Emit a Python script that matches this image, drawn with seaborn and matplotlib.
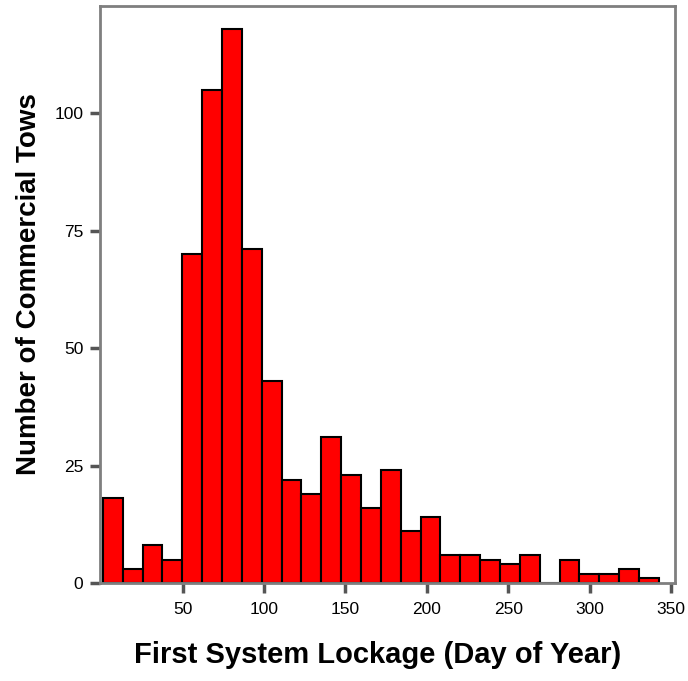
import matplotlib
matplotlib.use("Agg")
import matplotlib.pyplot as plt
import seaborn as sns
import numpy as np
import pandas as pd

# counts per bin (28 bins, day 1 .. ~342)
counts = [18, 3, 8, 5, 70, 105, 118, 71, 43, 22, 19, 31, 23, 16,
          24, 11, 14, 6, 6, 5, 4, 6, 0, 5, 2, 2, 3, 1]
bin_start = 1.0
bin_width = 12.2
x_ticks = [50, 100, 150, 200, 250, 300, 350]
y_ticks = [0, 25, 50, 75, 100]

edges = bin_start + bin_width * np.arange(len(counts) + 1)
df = pd.DataFrame({"day": (edges[:-1] + edges[1:]) / 2, "n": counts})

sns.set_style("white")
plt.rcParams['font.family'] = ['Liberation Sans', 'DejaVu Sans']

fig = plt.figure(figsize=(6.88, 6.81), dpi=100)
ax = fig.add_axes([100 / 688, 1 - 583 / 681, 575 / 688, 577 / 681])

sns.histplot(data=df, x="day", weights="n", bins=list(edges), ax=ax,
             color="#ff0000", alpha=1, edgecolor="black", linewidth=1.5)

ax.set_xlim(-0.8, 352.5)
ax.set_ylim(0, 122.8)
ax.set_xticks(x_ticks)
ax.set_yticks(y_ticks)

for s in ax.spines.values():
    s.set_color("#7f7f7f")
    s.set_linewidth(2)
ax.tick_params(axis="both", bottom=True, left=True, direction="out",
               length=7, width=2.5, color="#555555", labelsize=12.5,
               labelcolor="black")
ax.tick_params(axis="x", pad=7)
ax.tick_params(axis="y", pad=5)

ax.set_xlabel("First System Lockage (Day of Year)", fontsize=21,
              fontweight="bold", color="black", labelpad=17)
ax.xaxis.label.set_x(0.483)
ax.set_ylabel("Number of Commercial Tows", fontsize=20,
              fontweight="bold", color="black", labelpad=9)
ax.yaxis.label.set_y(0.518)

fig.savefig("out.png", dpi=100)
